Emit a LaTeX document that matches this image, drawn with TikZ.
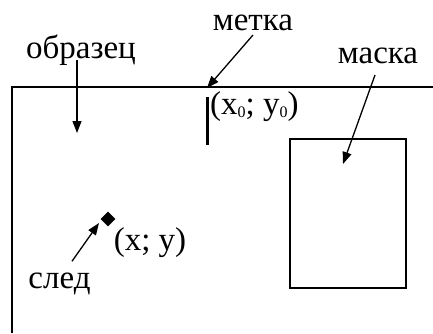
\documentclass[tikz,border=0pt]{standalone}
\usepackage{fontspec}
\setmainfont{Liberation Serif}
\usetikzlibrary{arrows.meta,shapes.geometric}
\begin{document}
\begin{tikzpicture}[x=1pt,y=-1pt,
  lbl/.style={inner sep=0pt, anchor=base, font=\fontsize{33}{40}\selectfont},
  arr/.style={line width=1.3pt, -{Triangle[length=12pt,width=9pt]}},
  frame/.style={line width=1.5pt}]
\useasboundingbox (0,0) rectangle (433,333);
% sample edges
\coordinate (corner) at (12,87);
\coordinate (rightend) at (433,87);
\coordinate (bottomend) at (12,333);
\draw[frame] (bottomend) -- (corner) -- (rightend);
% labels
\node[lbl] (obr) at (81,58) {образец};
\node[lbl] (metka) at (253,30) {метка};
\node[lbl] (mask) at (378,63) {маска};
\node[lbl] (sled) at (59.5,288) {след};
\node[lbl, anchor=base west] (x0y0) at (210,114) {(x\raisebox{-3pt}{\fontsize{16}{20}\selectfont 0}; y\raisebox{-3pt}{\fontsize{16}{20}\selectfont 0})};
\node[lbl] (xy) at (150,250) {(x; y)};
% mark
\node[fill, minimum width=3pt, minimum height=48pt, inner sep=0pt] (mark) at (207,121) {};
\coordinate (junc) at (207,88);
% mask rectangle
\node[draw, frame, minimum width=116pt, minimum height=149pt, inner sep=0pt] (maskbox) at (348,213.5) {};
% trace diamond
\node[diamond, fill, minimum size=15pt, inner sep=0pt] (trace) at (108,219) {};
% arrow tips
\coordinate (obrtip) at (77,133);
\coordinate (masktip) at (343,164);
\coordinate (sledtip) at (99,223);
% arrows
\draw[arr] ([yshift=-2pt]obr.base -| obrtip) -- (obrtip);
\draw[arr] ([yshift=-5pt]metka.base) -- (junc);
\draw[arr] ([xshift=-3pt,yshift=-12pt]mask.base) -- (masktip);
\draw[arr] ([shift={(12.5,-11)}]sled.north) -- (sledtip);
\end{tikzpicture}
\end{document}
